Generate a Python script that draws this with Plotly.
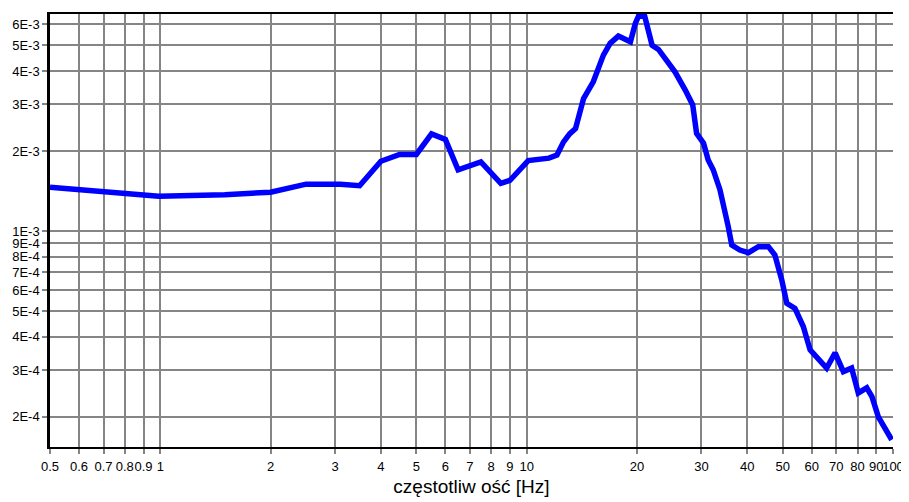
import numpy as np
import plotly.graph_objects as go

freq_hz = [0.5, 0.99, 1.5, 2.0, 2.5, 3.1, 3.5, 4.0, 4.5, 5.0, 5.5, 6.0, 6.5, 7.5, 8.5, 9.0,
           10.1, 11.5, 12.1, 12.6, 13.1, 13.6, 14.3, 15.2, 16.2, 16.9, 17.8, 18.6, 19.2, 19.8,
           20.2, 21.0, 22.0, 22.9, 24.1, 25.4, 27.1, 28.4, 29.1, 30.4, 31.3, 32.3, 33.7, 34.8,
           35.5, 36.3, 38.2, 40.3, 42.9, 45.7, 47.6, 49.7, 51.3, 54.0, 56.9, 59.4, 62.6, 65.9,
           69.5, 73.2, 77.1, 80.4, 84.8, 87.6, 91.2, 95.1, 99.2]
amplitude = [1.46e-3, 1.35e-3, 1.37e-3, 1.40e-3, 1.50e-3, 1.50e-3, 1.48e-3, 1.83e-3, 1.94e-3,
             1.94e-3, 2.32e-3, 2.21e-3, 1.70e-3, 1.82e-3, 1.51e-3, 1.55e-3, 1.84e-3, 1.88e-3,
             1.93e-3, 2.16e-3, 2.32e-3, 2.43e-3, 3.15e-3, 3.64e-3, 4.59e-3, 5.08e-3, 5.41e-3,
             5.26e-3, 5.15e-3, 6.04e-3, 6.43e-3, 6.43e-3, 5.00e-3, 4.82e-3, 4.39e-3, 3.97e-3,
             3.39e-3, 2.98e-3, 2.33e-3, 2.14e-3, 1.85e-3, 1.70e-3, 1.43e-3, 1.20e-3, 1.04e-3,
             8.86e-4, 8.48e-4, 8.29e-4, 8.73e-4, 8.73e-4, 8.12e-4, 6.54e-4, 5.35e-4, 5.12e-4,
             4.37e-4, 3.57e-4, 3.32e-4, 3.05e-4, 3.48e-4, 2.96e-4, 3.05e-4, 2.46e-4, 2.57e-4,
             2.38e-4, 2.00e-4, 1.81e-4, 1.64e-4]

x_tickvals = [0.5, 0.6, 0.7, 0.8, 0.9, 1, 2, 3, 4, 5, 6, 7, 8, 9, 10,
              20, 30, 40, 50, 60, 70, 80, 90, 100]
x_ticktext = ["0.5", "0.6", "0.7", "0.8", "0.9", "1", "2", "3", "4", "5", "6", "7", "8", "9", "10",
              "20", "30", "40", "50", "60", "70", "80", "90", "100"]
y_tickvals = [2e-4, 3e-4, 4e-4, 5e-4, 6e-4, 7e-4, 8e-4, 9e-4, 1e-3,
              2e-3, 3e-3, 4e-3, 5e-3, 6e-3]
y_ticktext = ["2E-4", "3E-4", "4E-4", "5E-4", "6E-4", "7E-4", "8E-4", "9E-4", "1E-3",
              "2E-3", "3E-3", "4E-3", "5E-3", "6E-3"]
x_title = "częstotliw ość [Hz]"

fig = go.Figure()
fig.add_trace(go.Scatter(x=freq_hz, y=amplitude, mode="lines",
                         line=dict(color="#0000ff", width=5.5), showlegend=False))

grid_color = "#858585"
font = dict(family="Liberation Sans, Arial, sans-serif", size=13, color="#000000")

# page body has an 8px default margin: size the figure to fill the 909x502 window
fig.update_layout(
    width=901, height=494,
    margin=dict(l=42, r=16, t=6, b=55, autoexpand=False),
    paper_bgcolor="white", plot_bgcolor="white",
    font=font,
)
fig.update_xaxes(
    type="log", range=[np.log10(0.5), 2.0],
    tickmode="array", tickvals=x_tickvals, ticktext=x_ticktext,
    tickangle=0, automargin=False, ticklabelstandoff=1,
    showgrid=True, gridcolor=grid_color, gridwidth=1.5,
    ticks="outside", ticklen=5, tickcolor=grid_color, tickwidth=1.5,
    showline=True, linecolor="black", linewidth=2, mirror=True,
    tickfont=font,
    title=dict(text=x_title, font=dict(family="Liberation Sans, Arial, sans-serif", size=19, color="#000000"), standoff=7),
    zeroline=False,
)
fig.update_yaxes(
    type="log", range=[np.log10(1.54e-4), np.log10(6.55e-3)],
    tickmode="array", tickvals=y_tickvals, ticktext=y_ticktext,
    automargin=False,
    showgrid=True, gridcolor=grid_color, gridwidth=1.5,
    ticks="outside", ticklen=5, tickcolor=grid_color, tickwidth=1.5,
    showline=True, linecolor="black", linewidth=2.5,
    tickfont=font,
    zeroline=False,
)

fig.write_html("out.html")
